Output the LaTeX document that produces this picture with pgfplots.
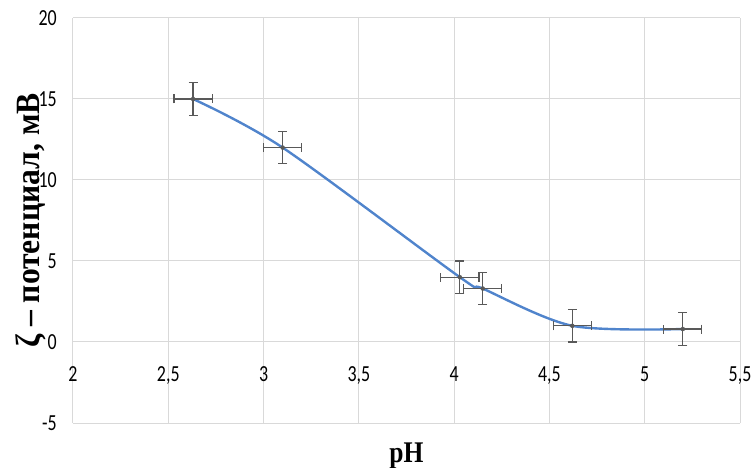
\documentclass[border=0pt]{standalone}
\usepackage{fontspec}
\usepackage{pgfplots}
\pgfplotsset{compat=1.18}
\newfontfamily\tickfont[FakeStretch=0.78]{Carlito}
\newfontfamily\labfont[FakeStretch=0.85]{Liberation Serif}
\newfontfamily\ylabfont[FakeStretch=0.93]{Liberation Serif}
\definecolor{linecol}{RGB}{80,132,204}
\definecolor{gridcol}{RGB}{217,217,217}
\definecolor{errcol}{RGB}{89,89,89}
\begin{document}
\begin{tikzpicture}
\begin{axis}[
  scale only axis,
  width=667pt, height=405pt,
  xmin=2, xmax=5.5, ymin=-5, ymax=20,
  xtick={2,2.5,...,5.5}, ytick={-5,0,...,20},
  grid=major,
  major grid style={draw=gridcol, line width=1pt},
  axis line style={draw=none},
  major tick length=0pt,
  /pgf/number format/.cd, use comma, assume math mode=true,
  /pgfplots/.cd,
  xticklabel style={font=\tickfont\fontsize{23}{23}\selectfont, anchor=base, inner sep=0pt, yshift=41pt},
  yticklabel style={font=\tickfont\fontsize{23}{23}\selectfont, anchor=east, inner sep=0pt, xshift=-16pt},
  xlabel={pH},
  ylabel={ζ – потенциал, мВ},
  xlabel style={font=\labfont\bfseries\fontsize{30}{30}\selectfont, at={(rel axis cs:0.5,0)}, anchor=base, yshift=-39pt},
  ylabel style={font=\ylabfont\bfseries\fontsize{34}{34}\selectfont, at={(rel axis cs:0,0.5)}, anchor=center, yshift=42pt},
  clip=false,
]
\coordinate (ll) at (rel axis cs:0,0);
\coordinate (ur) at (rel axis cs:1,1);
\addplot[color=linecol, line width=2.4pt, smooth, mark=none] table {
x y
2.63 15.0
3.10 12.0
4.03 4.0
4.15 3.3
4.62 1.0
5.20 0.8
};
\addplot[only marks, mark=none, color=errcol,
  error bars/.cd, x dir=both, y dir=both, x explicit, y explicit,
  error mark=|,
  error bar style={line width=1.2pt, color=errcol},
  error mark options={line width=1.2pt, color=errcol, mark size=4.5pt}]
  table[x=x, y=y, x error=ex, y error=ey] {
x y ex ey
2.63 15.0 0.1 1
3.10 12.0 0.1 1
4.03 4.0 0.1 1
4.15 3.3 0.1 1
4.62 1.0 0.1 1
5.20 0.8 0.1 1
};
\end{axis}
\pgfresetboundingbox
\path[use as bounding box] ([shift={(-73pt,-44pt)}]ll) rectangle ([shift={(15pt,18pt)}]ur);
\end{tikzpicture}
\end{document}
